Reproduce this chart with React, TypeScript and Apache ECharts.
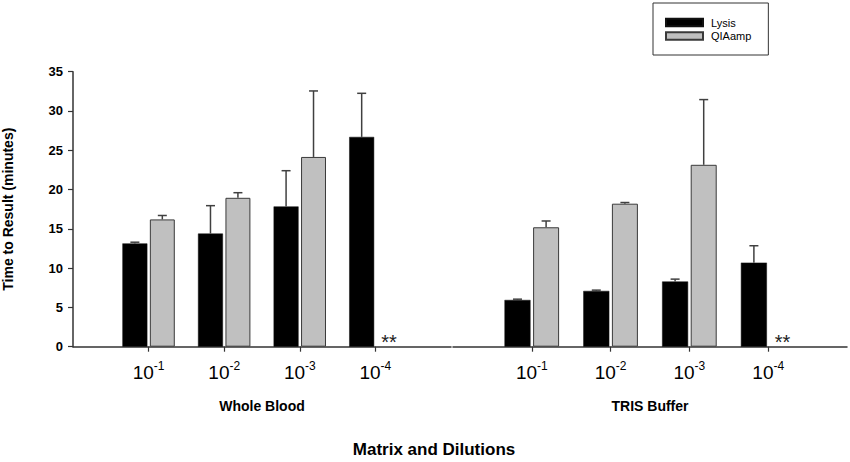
import React, { useEffect, useRef } from "react";
import * as echarts from "echarts";

const dilutionExponents = ["-1", "-2", "-3", "-4"];
const categories = ["", ...dilutionExponents, ""];
const panelNames = ["Whole Blood", "TRIS Buffer"];
const seriesNames = ["Lysis", "QIAamp"];

const wholeBloodLysis = [13.15, 14.4, 17.85, 26.7];
const wholeBloodLysisErrTop = [13.3, 17.95, 22.4, 32.25];
const wholeBloodQia = [16.2, 18.95, 24.15, null];
const wholeBloodQiaErrTop = [16.7, 19.6, 32.55, null];

const trisLysis = [5.95, 7.1, 8.3, 10.7];
const trisLysisErrTop = [6.05, 7.2, 8.6, 12.85];
const trisQia = [15.2, 18.2, 23.15, null];
const trisQiaErrTop = [16.0, 18.35, 31.45, null];

const yTicks = { min: 0, max: 35, interval: 5 };
const xTitle = "Matrix and Dilutions";
const yTitle = "Time to Result (minutes)";
const noResultMark = "**";

const FONT = 'Arial, "Liberation Sans", sans-serif';
const BAR_W = 0.33;
const BAR_GAP = 0.1;

type Panel = {
  lysis: (number | null)[];
  lysisErr: (number | null)[];
  qia: (number | null)[];
  qiaErr: (number | null)[];
};

const panels: Panel[] = [
  { lysis: wholeBloodLysis, lysisErr: wholeBloodLysisErrTop, qia: wholeBloodQia, qiaErr: wholeBloodQiaErrTop },
  { lysis: trisLysis, lysisErr: trisLysisErrTop, qia: trisQia, qiaErr: trisQiaErrTop },
];

const pad = (arr: (number | null)[]) => [null, ...arr, null];

export default function App() {
  const ref = useRef<HTMLDivElement>(null);
  useEffect(() => {
    const chart = echarts.init(ref.current!, null, { renderer: "svg" });
    const axisColor = "#333";
    const grids = [
      { left: 72.5, top: 71.7, width: 378.5, height: 275 },
      { left: 453, top: 71.7, width: 395, height: 275 },
    ];
    const xAxes = panelNames.map((name, i) => ({
      type: "category",
      gridIndex: i,
      data: categories,
      boundaryGap: false,
      axisLine: { lineStyle: { color: axisColor, width: 1.5 } },
      axisTick: {
        length: 5,
        interval: (idx: number) => idx >= 1 && idx <= dilutionExponents.length,
        lineStyle: { color: axisColor, width: 1.2 },
      },
      axisLabel: {
        interval: 0,
        margin: 13,
        formatter: (v: string) => (v ? `{b|10}{s|${v}}` : ""),
        rich: {
          b: { fontSize: 19, fontFamily: FONT, color: "#000", lineHeight: 22, verticalAlign: "bottom" },
          s: { fontSize: 12, fontFamily: FONT, color: "#000", lineHeight: 14, verticalAlign: "bottom", padding: [0, 0, 10, 0] },
        },
      },
      name,
      nameLocation: "middle",
      nameGap: 52,
      nameTextStyle: { fontSize: 14, fontWeight: "bold", fontFamily: FONT, color: "#000" },
    }));
    const yAxes = panelNames.map((_, i) => ({
      type: "value",
      gridIndex: i,
      min: yTicks.min,
      max: yTicks.max,
      interval: yTicks.interval,
      show: i === 0,
      splitLine: { show: false },
      axisLine: { show: true, lineStyle: { color: axisColor, width: 1.5 } },
      axisTick: { show: true, length: 5, lineStyle: { color: axisColor, width: 1.2 } },
      axisLabel: { margin: 10, fontSize: 13, fontWeight: "bold", fontFamily: FONT, color: "#000" },
      name: i === 0 ? yTitle : "",
      nameLocation: "middle",
      nameGap: 58,
      nameRotate: 90,
      nameTextStyle: { fontSize: 14, fontWeight: "bold", fontFamily: FONT, color: "#000" },
    }));

    const series: any[] = [];
    panels.forEach((p, i) => {
      series.push({
        type: "bar",
        name: seriesNames[0],
        xAxisIndex: i,
        yAxisIndex: i,
        data: pad(p.lysis),
        barWidth: `${BAR_W * 100}%`,
        barGap: `${BAR_GAP * 100}%`,
        itemStyle: { color: "#000", borderColor: "#111", borderWidth: 0.5 },
      });
      series.push({
        type: "bar",
        name: seriesNames[1],
        xAxisIndex: i,
        yAxisIndex: i,
        data: pad(p.qia),
        barWidth: `${BAR_W * 100}%`,
        barGap: `${BAR_GAP * 100}%`,
        itemStyle: { color: "#c0c0c0", borderColor: "#3a3a3a", borderWidth: 1 },
      });
      const errData: number[][] = [];
      p.lysis.forEach((v, k) => {
        if (v != null && p.lysisErr[k] != null) errData.push([k + 1, v, p.lysisErr[k] as number, -1]);
      });
      p.qia.forEach((v, k) => {
        if (v != null && p.qiaErr[k] != null) errData.push([k + 1, v, p.qiaErr[k] as number, 1]);
      });
      series.push({
        type: "custom",
        xAxisIndex: i,
        yAxisIndex: i,
        data: errData,
        z: 5,
        silent: true,
        renderItem: (_params: any, api: any) => {
          const idx = api.value(0);
          const val = api.value(1);
          const top = api.value(2);
          const side = api.value(3);
          const band = api.size([1, 0])[0];
          const off = side * (BAR_W * band) * (1 + BAR_GAP) / 2;
          const p0 = api.coord([idx, val]);
          const p1 = api.coord([idx, top]);
          const x = p0[0] + off;
          return {
            type: "group",
            children: [
              { type: "line", shape: { x1: x, y1: p0[1], x2: x, y2: p1[1] }, style: { stroke: "#404040", lineWidth: 1.5 } },
              { type: "line", shape: { x1: x - 4.5, y1: p1[1], x2: x + 4.5, y2: p1[1] }, style: { stroke: "#404040", lineWidth: 1.5 } },
            ],
          };
        },
      });
      const markData: number[][] = [];
      p.qia.forEach((v, k) => {
        if (v == null) markData.push([k + 1, 0]);
      });
      series.push({
        type: "custom",
        xAxisIndex: i,
        yAxisIndex: i,
        data: markData,
        z: 5,
        silent: true,
        renderItem: (_params: any, api: any) => {
          const idx = api.value(0);
          const band = api.size([1, 0])[0];
          const off = (BAR_W * band) * (1 + BAR_GAP) / 2;
          const p0 = api.coord([idx, 0]);
          return {
            type: "text",
            style: {
              text: noResultMark,
              x: p0[0] + off,
              y: p0[1] + 5,
              fill: "#222",
              font: `20px ${FONT}`,
              align: "center",
              verticalAlign: "bottom",
              textAlign: "center",
              textVerticalAlign: "bottom",
            },
          };
        },
      });
    });

    const option: any = {
      animation: false,
      backgroundColor: "#fff",
      grid: grids,
      xAxis: xAxes,
      yAxis: yAxes,
      legend: {
        data: seriesNames,
        orient: "vertical",
        left: 653,
        top: 3,
        icon: "rect",
        itemWidth: 37,
        itemHeight: 7.5,
        itemGap: 1.5,
        padding: [13.5, 17, 13, 12],
        borderColor: "#333",
        borderWidth: 1,
        textStyle: { fontSize: 11, lineHeight: 12, fontFamily: FONT, color: "#000", padding: [0, 0, 0, 3] },
        selectedMode: false,
      },
      graphic: [
        {
          type: "text",
          x: 434,
          y: 449,
          style: {
            text: xTitle,
            fill: "#000",
            font: `bold 17px ${FONT}`,
            align: "center",
            verticalAlign: "middle",
            textAlign: "center",
            textVerticalAlign: "middle",
          },
        },
      ],
      series,
    };
    chart.setOption(option);
    return () => chart.dispose();
  }, []);
  return (
    <div
      ref={ref}
      style={{ position: "fixed", left: 0, top: 0, width: 850, height: 462, background: "#fff" }}
    />
  );
}
